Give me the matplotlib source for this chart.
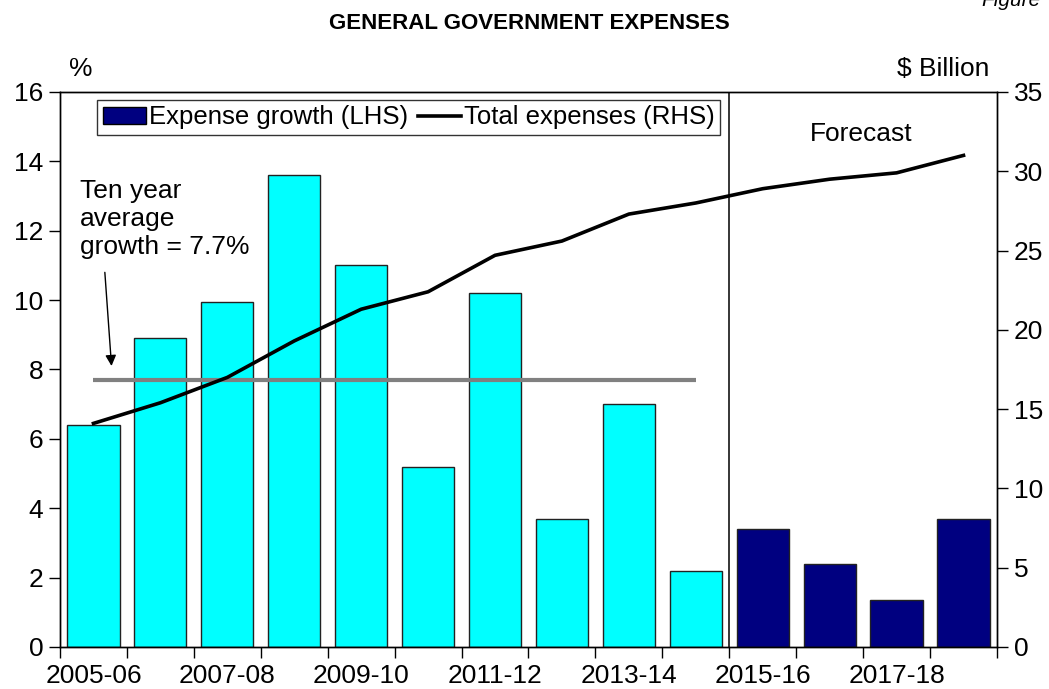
"""General government expenses: annual growth (bars, LHS) and total expenses (line, RHS)."""
import matplotlib

matplotlib.use("Agg")
import matplotlib.pyplot as plt
from matplotlib.lines import Line2D
from matplotlib.patches import Patch

plt.rcParams["font.family"] = ["Liberation Sans", "DejaVu Sans"]

YEARS = [
    "2005-06", "2006-07", "2007-08", "2008-09", "2009-10", "2010-11", "2011-12",
    "2012-13", "2013-14", "2014-15", "2015-16", "2016-17", "2017-18", "2018-19",
]
# Expense growth, per cent (LHS)
GROWTH = [6.4, 8.9, 9.95, 13.6, 11.0, 5.2, 10.2, 3.7, 7.0, 2.2, 3.4, 2.4, 1.35, 3.7]
# Total expenses, $ billion (RHS)
TOTAL = [14.1, 15.4, 17.0, 19.3, 21.3, 22.4, 24.7, 25.6, 27.3, 28.0, 28.9, 29.5, 29.9, 31.0]
# first forecast year; bars from here on are drawn dark
FIRST_FORECAST = "2015-16"
TEN_YEAR_AVG = 7.7

ACTUAL_COLOR = "#00FFFF"
FORECAST_COLOR = "#000080"
FS = 19


def main() -> int:
    fig = plt.figure(figsize=(10.49, 6.89), dpi=100)
    ax = fig.add_axes([0.0572, 0.061, 0.8932, 0.8055])
    ax2 = ax.twinx()

    x = list(range(len(YEARS)))
    split = YEARS.index(FIRST_FORECAST)
    colors = [ACTUAL_COLOR if i < split else FORECAST_COLOR for i in x]
    ax.bar(x, GROWTH, width=0.78, color=colors, edgecolor="#222222", linewidth=1.0, zorder=2)

    # ten year average across the actual years
    ax.plot([x[0], x[split - 1]], [TEN_YEAR_AVG, TEN_YEAR_AVG], color="#808080", lw=3.0,
            solid_capstyle="butt", zorder=3)
    ax.axvline(split - 0.5, color="black", lw=1.1, zorder=3)

    ax2.plot(x, TOTAL, color="black", lw=2.6, zorder=4)

    ax.set_xlim(-0.5, len(YEARS) - 0.5)
    ax.set_ylim(0, 16)
    ax.set_yticks(range(0, 17, 2))
    ax2.set_ylim(0, 35)
    ax2.set_yticks(range(0, 36, 5))

    # labels on every second year, ticks between categories
    ax.set_xticks(x[::2])
    ax.set_xticklabels(YEARS[::2])
    ax.set_xticks([i - 0.5 for i in range(len(YEARS) + 1)], minor=True)
    ax.tick_params(axis="x", which="major", length=0, pad=12, labelsize=FS)
    ax.tick_params(axis="x", which="minor", length=8, width=1, direction="out")
    ax.tick_params(axis="y", length=8, width=1, direction="out", labelsize=FS, pad=4)
    ax2.tick_params(axis="y", length=8, width=1, direction="out", labelsize=FS, pad=4)

    for a in (ax, ax2):
        for sp in a.spines.values():
            sp.set_linewidth(1.0)

    ax.text(-0.2, 13.5, "Ten year\naverage\ngrowth = 7.7%", fontsize=FS, linespacing=1.22,
            ha="left", va="top", zorder=5)
    ax.annotate("", xy=(0.27, 8.1), xytext=(0.17, 10.8),
                arrowprops=dict(arrowstyle="-|>", color="black", lw=1.0,
                                mutation_scale=16, shrinkA=0, shrinkB=0))
    ax.text(11.47, 14.8, "Forecast", fontsize=FS, ha="center", va="center")

    fig.text(0.077, 0.90, "%", fontsize=FS, ha="center", va="center")
    fig.text(0.943, 0.90, "$ Billion", fontsize=FS, ha="right", va="center")
    fig.text(0.505, 0.966, "GENERAL GOVERNMENT EXPENSES", fontsize=16,
             fontweight="bold", ha="center", va="center")
    fig.text(0.992, 0.992, "Figure", fontsize=15, style="italic", ha="right",
             va="baseline")

    handles = [
        Patch(facecolor=FORECAST_COLOR, edgecolor="black", linewidth=1.0),
        Line2D([], [], color="black", lw=2.6),
    ]
    leg = ax2.legend(handles, ["Expense growth (LHS)", "Total expenses (RHS)"], ncol=2,
                     loc="upper left", bbox_to_anchor=(0.04, 0.985), fontsize=18.5,
                     frameon=True, fancybox=False, handlelength=1.7, handleheight=0.65,
                     handletextpad=0.12, columnspacing=0.35, borderpad=0.2,
                     borderaxespad=0)
    leg.get_frame().set_edgecolor("black")
    leg.get_frame().set_linewidth(1.0)
    leg.set_zorder(10)

    fig.savefig("out.png", dpi=100)
    plt.close(fig)
    return 0


if __name__ == "__main__":
    raise SystemExit(main())
